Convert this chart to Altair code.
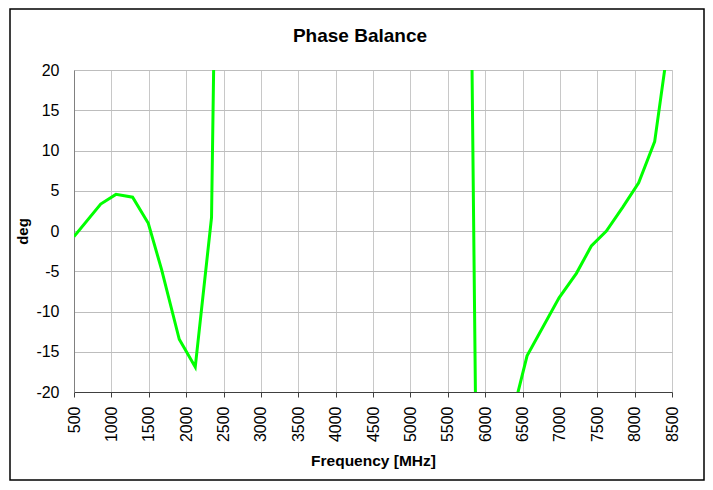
import altair as alt
import pandas as pd

freq_mhz = [500, 857, 1061, 1284, 1494, 1672, 1908, 2122, 2340, 2460,
            5750, 5950, 6400, 6561, 6989, 7221, 7421, 7622, 7844, 8054, 8268, 8490]
phase_deg = [-0.7, 3.35, 4.55, 4.2, 0.95, -4.8, -13.45, -16.9, 1.7, 80.0,
             86.7, -91.0, -21.5, -15.5, -8.3, -5.26, -1.86, 0.0, 3.0, 6.0, 11.1, 25.9]
x_ticks = list(range(500, 8501, 500))
y_ticks = list(range(-20, 21, 5))
chart_title = "Phase Balance"

df = pd.DataFrame({"f": freq_mhz, "p": phase_deg})

W, H = 598, 322
FONT = "Liberation Sans"

line = alt.Chart(df).mark_line(color="#00ff00", strokeWidth=3, clip=True).encode(
    x=alt.X("f:Q", scale=alt.Scale(domain=[500, 8500], nice=False, zero=False),
            axis=alt.Axis(values=x_ticks, labelAngle=-90, title="Frequency [MHz]",
                          labelExpr="datum.value + ''",
                          grid=True, gridColor="#c8c8c8", domainColor="#404040",
                          tickColor="#404040", tickSize=5, labelPadding=9,
                          labelFontSize=16, labelFont=FONT, labelColor="#000",
                          titleFont=FONT, titleFontSize=15.5, titleFontWeight="bold",
                          titleColor="#000", titlePadding=12, labelFlush=False)),
    y=alt.Y("p:Q", scale=alt.Scale(domain=[-20, 20], nice=False, zero=False),
            axis=alt.Axis(values=y_ticks, title="deg", grid=True, gridColor="#bdbdbd",
                          labelExpr="datum.value + ''",
                          domainColor="#808080", ticks=False, labelPadding=15,
                          labelFontSize=16, labelFont=FONT, labelColor="#000",
                          titleFont=FONT, titleFontSize=15, titleFontWeight="bold",
                          titleColor="#000", titlePadding=5, labelFlush=False)),
)

border = alt.Chart(alt.Data(values=[{}])).mark_rect(
    fill=None, stroke="#000", strokeWidth=1.5
).encode(
    x=alt.value(-64), x2=alt.value(630), y=alt.value(-61), y2=alt.value(410)
)

title = alt.Chart(alt.Data(values=[{"t": chart_title}])).mark_text(
    font=FONT, fontSize=19, fontWeight="bold", color="#000",
    align="center", baseline="alphabetic"
).encode(text="t:N", x=alt.value(286), y=alt.value(-28))

chart = alt.layer(border, line, title).properties(
    width=W, height=H,
    autosize=alt.AutoSizeParams(type="none"),
    padding={"left": 66, "top": 62, "right": 33, "bottom": 89},
).configure_view(stroke="#808080", strokeWidth=1).configure(background="white")

chart.save("out.html", embed_options={"renderer": "svg", "actions": False})
